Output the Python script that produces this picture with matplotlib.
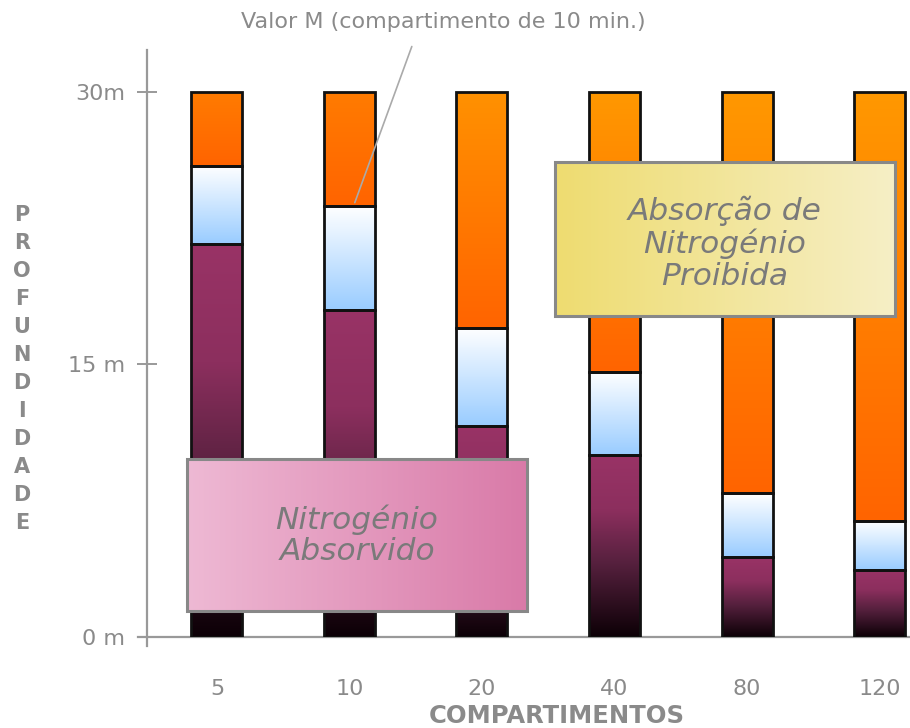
import numpy as np
import matplotlib
matplotlib.use("Agg")
from matplotlib import pyplot as plt
from matplotlib.colors import LinearSegmentedColormap
from matplotlib.patches import Rectangle

plt.rcParams["font.family"] = ["DejaVu Sans"]

# compartments (min) and depth limits (m)
compartments = ["5", "10", "20", "40", "80", "120"]
absorbed = [21.6, 18.0, 11.6, 10.0, 4.4, 3.7]     # nitrogen absorbed up to
m_value = [25.9, 23.7, 17.0, 14.6, 7.9, 6.4]      # M value
max_depth = [30, 30, 30, 30, 30, 30]
yticks = [0, 15, 30]
ytick_labels = ["0 m", "15 m", "30m"]

GRAY = "#8a8a8a"

cm_purple = LinearSegmentedColormap.from_list(
    "p", [(0, "#0c0006"), (0.4, "#55203d"), (0.7, "#8c2f5e"), (1, "#993366")])
cm_blue = LinearSegmentedColormap.from_list("b", ["#99ccff", "#ffffff"])
cm_orange = LinearSegmentedColormap.from_list("o", ["#ff6400", "#ff9800"])
cm_pink = LinearSegmentedColormap.from_list("k", ["#eeb9d4", "#d97aa8"])
cm_yellow = LinearSegmentedColormap.from_list("y", ["#eedc70", "#f6efc6"])

hgrad = np.linspace(0, 1, 256).reshape(1, -1)

fig = plt.figure(figsize=(9.1, 7.28), dpi=100)
ax = fig.add_axes([147 / 910, 1 - 637 / 728, 1 - 147 / 910, (637 - 50) / 728])

x = np.arange(len(compartments))
absorbed = np.array(absorbed)
m_value = np.array(m_value)
max_depth = np.array(max_depth)

segs = [
    (np.zeros(len(x)), absorbed, cm_purple, False),
    (absorbed, m_value - absorbed, cm_blue, False),
    (m_value, max_depth - m_value, cm_orange, True),
]
for bottom, height, cmap, partial in segs:
    bars = ax.bar(x, height, bottom=bottom, width=0.385, color="none",
                  edgecolor="#111111", linewidth=2.0, zorder=3)
    for b in bars:
        x0, y0, h = b.get_x(), b.get_y(), b.get_height()
        top = np.clip(h / 15, 0.45, 1) if partial else 1.0
        grad = np.linspace(0, top, 256).reshape(-1, 1)
        im = ax.imshow(grad, cmap=cmap, vmin=0, vmax=1, origin="lower", aspect="auto",
                       extent=(x0, x0 + b.get_width(), y0, y0 + h), zorder=2)
        im.set_clip_path(b)

ax.set_xlim(-0.528, 5.23)
ax.set_ylim(0, 32.3)

for s in ["top", "right", "bottom", "left"]:
    ax.spines[s].set_visible(False)
ax.axvline(-0.528, ymin=-0.015, ymax=1, color="#999999", lw=1.6, clip_on=False, zorder=1)
ax.axhline(0, xmin=-0.012, xmax=1, color="#999999", lw=1.6, clip_on=False, zorder=1)

ax.set_yticks(yticks)
ax.set_yticklabels(ytick_labels)
ax.tick_params(axis="y", direction="inout", length=14, width=1.4, color="#999999",
               labelcolor=GRAY, labelsize=16, pad=9)
ax.set_xticks(x)
ax.set_xticklabels(compartments)
ax.tick_params(axis="x", length=0, labelcolor=GRAY, labelsize=16, pad=30)

# boxes
def gbox(x0, x1, y0, y1, cmap, text, size, dy=0.0):
    ax.imshow(hgrad, cmap=cmap, aspect="auto", extent=(x0, x1, y0, y1), zorder=5)
    ax.add_patch(Rectangle((x0, y0), x1 - x0, y1 - y0, fill=False,
                           edgecolor="#888888", lw=2.2, zorder=6))
    ax.text((x0 + x1) / 2, (y0 + y1) / 2 + dy, text, ha="center", va="center",
            fontsize=size, style="italic", color="#7a7a7a", zorder=7,
            linespacing=1.1)

gbox(-0.226, 2.34, 1.43, 9.8, cm_pink, "Nitrogénio\nAbsorvido", 22.5)
gbox(2.55, 5.117, 17.67, 26.14, cm_yellow, "Absorção de\nNitrogénio\nProibida", 22.5, dy=-0.25)

ax.annotate("Valor M (compartimento de 10 min.)", xy=(1.04, m_value[1] + 0.2),
            xytext=(443, 706), textcoords="figure pixels", ha="center", va="center",
            fontsize=16, color=GRAY,
            arrowprops=dict(arrowstyle="-", color="#aaaaaa", lw=1.2,
                            relpos=(0.436, 0), shrinkA=9, shrinkB=0),
            annotation_clip=False, zorder=8)

fig.text(557 / 910, 1 - 716 / 728, "COMPARTIMENTOS", ha="center", va="center",
         fontsize=17.5, fontweight="bold", color=GRAY)
fig.text(22 / 910, 1 - 369 / 728, "\n".join("PROFUNDIDADE"), ha="center", va="center",
         fontsize=15, fontweight="bold", color=GRAY, linespacing=1.5)

fig.savefig("out.png", dpi=100)
